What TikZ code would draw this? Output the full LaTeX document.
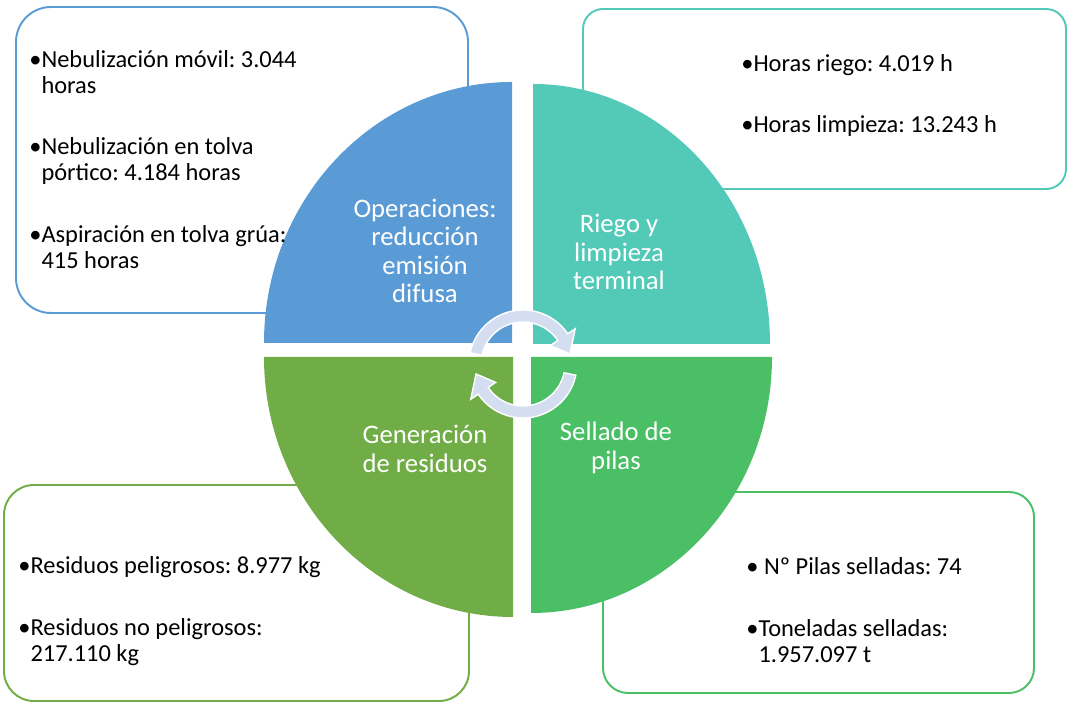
\documentclass[tikz,border=0pt]{standalone}
\usepackage{fontspec}
\setmainfont{Carlito}
\frenchspacing

\definecolor{opblue}{RGB}{91,155,213}
\definecolor{riegoteal}{RGB}{83,201,183}
\definecolor{resgreen}{RGB}{112,173,71}
\definecolor{pilagreen}{RGB}{74,191,101}
\definecolor{cyclefill}{RGB}{212,222,240}

\newcommand{\itemlines}[1]{\begin{tabular}[t]{@{}l@{}}#1\end{tabular}}

\begin{document}
\begin{tikzpicture}[x=0.02cm, y=0.02cm,
    infobox/.style={line width=1.1pt, fill=white, rounded corners=#1},
    cyclearrow/.style={fill=cyclefill, draw=white, line width=0.8pt},
    boxtext/.style={anchor=base west, inner sep=0pt, font=\fontsize{13.9}{14.4}\selectfont},
    labeltext/.style={align=center, text=white, inner sep=0pt, font=\fontsize{15.2}{16.2}\selectfont}]

        \useasboundingbox (0,0) rectangle (1068,702);

        % boxes behind the circle
        \draw[infobox=0.7cm, draw=opblue] (16,389) rectangle (468,695);
        \draw[infobox=0.4cm, draw=riegoteal] (583,513) rectangle (1066,693);
        \draw[infobox=0.6cm, draw=resgreen] (4,1) rectangle (469,217);
        \draw[infobox=0.5cm, draw=pilagreen] (603,9) rectangle (1034,210);

        % quarters
        \fill[opblue] (512,359) -- (264,359) arc[start angle=180, end angle=90, x radius=248, y radius=261] -- cycle;
        \fill[riegoteal] (533,358) -- (533,618) arc[start angle=90, end angle=0, x radius=237, y radius=260] -- cycle;
        \fill[resgreen] (513,345) -- (264,345) arc[start angle=180, end angle=270, x radius=249, y radius=260] -- cycle;
        \fill[pilagreen] (531,345) -- (772,345) arc[start angle=0, end angle=-90, x radius=241, y radius=256] -- cycle;

        % cycle arrows
        \coordinate (hub) at (523,338);
        \begin{scope}[shift={(hub)}]
            \filldraw[cyclearrow] (168:54) arc[start angle=168, end angle=34, radius=54] -- (34:63) -- (12:48) -- (34:33) -- (34:42) arc[start angle=34, end angle=168, radius=42] -- cycle; % top
            \filldraw[cyclearrow] (348:54) arc[start angle=348, end angle=214, radius=54] -- (214:63) -- (192:48) -- (214:33) -- (214:42) arc[start angle=214, end angle=348, radius=42] -- cycle; % bottom
        \end{scope}

        % labels in the circle
        \node[labeltext] (ops) at (425,451) {Operaciones:\\reducción\\emisión\\difusa};
        \node[labeltext] (riego) at (619,450) {Riego y\\limpieza\\terminal};
        \node[labeltext] (gen) at (425,253) {Generación\\de residuos};
        \node[labeltext] (sell) at (616,254) {Sellado de\\pilas};

        % top left box
        \node[boxtext] (nebmovil) at (29,634) {\itemlines{•Nebulización móvil: 3.044\\\hphantom{•}horas}};
        \node[boxtext] (nebtolva) at (29,547) {\itemlines{•Nebulización en tolva\\\hphantom{•}pórtico: 4.184 horas}};
        \node[boxtext] (aspira) at (29,459) {\itemlines{•Aspiración en tolva grúa:\\\hphantom{•}415 horas}};

        % top right box
        \node[boxtext] (hriego) at (741,630) {•Horas riego: 4.019 h};
        \node[boxtext] (hlimp) at (741,569) {•Horas limpieza: 13.243 h};

        % bottom left box
        \node[boxtext] (respel) at (18,128) {•Residuos peligrosos: 8.977 kg};
        \node[boxtext] (resnopel) at (18,66) {\itemlines{•Residuos no peligrosos:\\\hphantom{•}217.110 kg}};

        % bottom right box
        \node[boxtext] (npilas) at (746,127) {• Nº Pilas selladas: 74};
        \node[boxtext] (tonel) at (746,65) {\itemlines{•Toneladas selladas:\\\hphantom{•}1.957.097 t}};

\end{tikzpicture}
\end{document}
